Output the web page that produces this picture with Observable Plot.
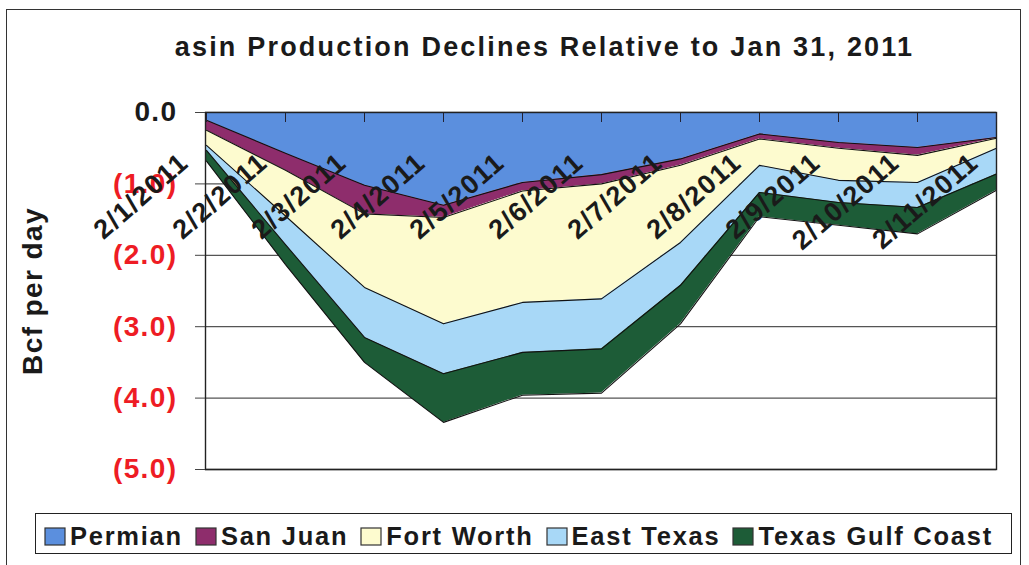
<!DOCTYPE html>
<html>
<head>
<meta charset="utf-8">
<script src="https://cdn.jsdelivr.net/npm/d3@7"></script>
<script src="https://cdn.jsdelivr.net/npm/@observablehq/plot@0.6"></script>
<style>
  html, body { margin: 0; padding: 0; background: #fff; }
  body { width: 1029px; height: 565px; overflow: hidden; position: relative; font-family: "Liberation Sans", Arial, sans-serif; }
  #outer { position: absolute; left: 6px; top: 9px; width: 1015px; height: 600px; border: 1.5px solid #333; box-sizing: border-box; }
  #title { position: absolute; left: 30px; top: 34px; width: 1029px; text-align: center; font-size: 27px; line-height: 27px; font-weight: bold; letter-spacing: 2.2px; color: #1a1a1a; white-space: nowrap; }
  #chart { position: absolute; left: 0; top: 80px; }
  #chart svg text { letter-spacing: 1.4px; }
  #chart svg text.ylab { letter-spacing: 2.6px; }
  #legendbox { position: absolute; left: 35px; top: 513px; width: 977px; height: 41px; border: 1.2px solid #222; box-sizing: border-box; display: flex; align-items: center; padding-left: 9px; padding-top: 5px; overflow: hidden; white-space: nowrap; }
  #legendbox .lg-swatches-wrap { display: flex !important; flex-wrap: nowrap !important; align-items: center; min-height: 0; margin: 0; white-space: nowrap; }
  #legendbox .lg-swatches-wrap .lg-swatch { display: inline-flex; flex-shrink: 0; white-space: nowrap; margin-right: 13px !important; font-size: 25.5px; font-weight: bold; letter-spacing: 1.75px; color: #1a1a1a; font-family: "Liberation Sans", Arial, sans-serif; }
  #legendbox .lg-swatch > svg { margin-right: 5px !important; flex-shrink: 0; }
  #legendbox .lg-swatch > svg rect { stroke: #333; stroke-width: 1.2px; }
</style>
</head>
<body>
<div id="outer"></div>
<div id="title">asin Production Declines Relative to Jan 31, 2011</div>
<div id="chart"></div>
<div id="legendbox"></div>
<script>
// ---- data ----
const dates = ["2/1/2011","2/2/2011","2/3/2011","2/4/2011","2/5/2011","2/6/2011","2/7/2011","2/8/2011","2/9/2011","2/10/2011","2/11/2011"];
const seriesNames = ["Permian","San Juan","Fort Worth","East Texas","Texas Gulf Coast"];
const seriesColors = ["#5b8fde","#8e2d6c","#fdfbcf","#a8d8f7","#1d5c37"];
const permian    = [-0.11,-0.57,-1.02,-1.30,-0.98,-0.87,-0.65,-0.30,-0.42,-0.49,-0.35];
const sanJuan    = [-0.14,-0.24,-0.40,-0.17,-0.12,-0.13,-0.09,-0.07,-0.08,-0.11,-0.01];
const fortWorth  = [-0.21,-0.64,-1.03,-1.49,-1.56,-1.61,-1.08,-0.37,-0.45,-0.38,-0.14];
const eastTexas  = [-0.07,-0.40,-0.70,-0.70,-0.70,-0.70,-0.60,-0.38,-0.31,-0.35,-0.36];
const gulfCoast  = [-0.15,-0.28,-0.35,-0.68,-0.60,-0.62,-0.54,-0.34,-0.32,-0.37,-0.23];
const yTicks = [0,-1,-2,-3,-4,-5];
const yLabel = "Bcf per day";

const seriesValues = [permian, sanJuan, fortWorth, eastTexas, gulfCoast];
const data = seriesNames.flatMap((s, i) => dates.map((d, j) => ({date: d, series: s, value: seriesValues[i][j]})));

const fmt = d => d === 0 ? "0.0" : `(${Math.abs(d).toFixed(1)})`;
const font = "Liberation Sans, Arial, sans-serif";

const chart = Plot.plot({
  width: 1029,
  height: 410,
  marginTop: 32,
  marginBottom: 21,
  marginLeft: 205,
  marginRight: 33,
  style: {fontFamily: font, background: "transparent", color: "#1a1a1a"},
  x: {type: "point", domain: dates, padding: 0},
  y: {domain: [-5, 0]},
  color: {domain: seriesNames, range: seriesColors},
  marks: [
    Plot.gridY(yTicks, {stroke: "#555", strokeOpacity: 1, strokeWidth: 1.3}),
    Plot.areaY(data, {x: "date", y: "value", z: "series", fill: "series", fillOpacity: 1}),
    Plot.lineY(data, Plot.stackY2({x: "date", y: "value", z: "series", stroke: "#111", strokeWidth: 1.1})),
    Plot.frame({stroke: "#222", strokeWidth: 1.4}),
    Plot.axisY({ticks: yTicks, tickSize: 10, tickPadding: 18, tickFormat: fmt, stroke: "#444",
      fill: d => d === 0 ? "#1a1a1a" : "#ee1c24", fontSize: 28, fontWeight: "bold", label: null}),
    Plot.axisX({anchor: "top", tickSize: 9, dy: 9, tickFormat: () => "", stroke: "#223", label: null}),
    Plot.axisX({anchor: "top", tickSize: 0, tickPadding: 3, tickRotate: -41, textAnchor: "end", lineAnchor: "middle",
      dx: -22, dy: 49, fontSize: 27, fontWeight: "bold", fill: "#1a1a1a", label: null}),
    Plot.text([yLabel], {frameAnchor: "left", textAnchor: "middle", rotate: -90, dx: -172, fontSize: 28, fontWeight: "bold", fill: "#1a1a1a", className: "ylab"})
  ]
});
document.getElementById("chart").appendChild(chart);

const legend = Plot.legend({color: {domain: seriesNames, range: seriesColors}, legend: "swatches", swatchWidth: 20, swatchHeight: 17, className: "lg"});
document.getElementById("legendbox").appendChild(legend);
</script>
</body>
</html>
